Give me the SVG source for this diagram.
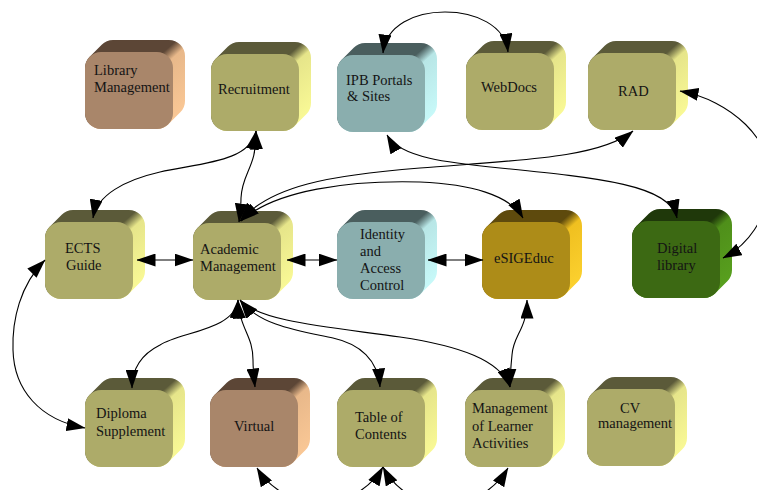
<svg xmlns="http://www.w3.org/2000/svg" xmlns:xlink="http://www.w3.org/1999/xlink" width="757" height="490" viewBox="0 0 757 490">
  <style>
    text { font-family: "Liberation Serif", "Times New Roman", serif; font-size: 14.5px; fill: #141414; }
    .e { fill: none; stroke: #000; stroke-width: 1.1; marker-start: url(#ah); marker-end: url(#ah); }
    .olive-h { fill: url(#gOlive); } .olive-f { fill: #adab69; }
    .brown-h { fill: url(#gBrown); } .brown-f { fill: #a9866a; }
    .teal-h  { fill: url(#gTeal); }  .teal-f  { fill: #8aaeae; }
    .gold-h  { fill: url(#gGold); }  .gold-f  { fill: #ad8c18; }
    .green-h { fill: url(#gGreen); } .green-f { fill: #3c6913; }
  </style>
  <defs>
    <!-- bevelled box: hull (top + right faces) and front face, 100 x 89, depth 12 -->
    <path id="hull" d="M0,28 A16,16 0 0 1 4.69,16.69 L16.69,4.69 A16,16 0 0 1 28,0 L84,0 A16,16 0 0 1 100,16 L100,61 A16,16 0 0 1 95.31,72.31 L83.31,84.31 A16,16 0 0 1 72,89 L16,89 A16,16 0 0 1 0,73 Z"/>
    <rect id="face" x="0" y="12" width="88" height="77" rx="16" ry="16"/>
    <linearGradient id="gOlive" x1="0" y1="0" x2="1" y2="1">
      <stop offset="0" stop-color="#5b5a39"/><stop offset="0.46" stop-color="#5b5a39"/>
      <stop offset="0.54" stop-color="#e6e58a"/><stop offset="1" stop-color="#ffff99"/>
    </linearGradient>
    <linearGradient id="gBrown" x1="0" y1="0" x2="1" y2="1">
      <stop offset="0" stop-color="#5c4636"/><stop offset="0.46" stop-color="#5c4636"/>
      <stop offset="0.54" stop-color="#e8b88a"/><stop offset="1" stop-color="#ffcc99"/>
    </linearGradient>
    <linearGradient id="gTeal" x1="0" y1="0" x2="1" y2="1">
      <stop offset="0" stop-color="#4a5e5e"/><stop offset="0.46" stop-color="#4a5e5e"/>
      <stop offset="0.54" stop-color="#b8e6e6"/><stop offset="1" stop-color="#ccffff"/>
    </linearGradient>
    <linearGradient id="gGold" x1="0" y1="0" x2="1" y2="1">
      <stop offset="0" stop-color="#5e4a0d"/><stop offset="0.46" stop-color="#5e4a0d"/>
      <stop offset="0.54" stop-color="#f0c020"/><stop offset="1" stop-color="#ffd633"/>
    </linearGradient>
    <linearGradient id="gGreen" x1="0" y1="0" x2="1" y2="1">
      <stop offset="0" stop-color="#1f380a"/><stop offset="0.46" stop-color="#1f380a"/>
      <stop offset="0.54" stop-color="#4f8f1a"/><stop offset="1" stop-color="#5ba51f"/>
    </linearGradient>
    <marker id="ah" viewBox="0 0 19 13" refX="18.5" refY="6.5" markerWidth="19" markerHeight="13" markerUnits="userSpaceOnUse" orient="auto-start-reverse">
      <path d="M0,0 L19,6.5 L0,13 Z" fill="#000"/>
    </marker>
  </defs>

  <!-- row 1 -->
  <g id="library-management">
    <use href="#hull" x="85" y="40" class="brown-h"/><use href="#face" x="85" y="40" class="brown-f"/>
    <text x="94" y="75">Library</text><text x="94" y="92">Management</text>
  </g>
  <g id="recruitment">
    <use href="#hull" x="211" y="42" class="olive-h"/><use href="#face" x="211" y="42" class="olive-f"/>
    <text x="218" y="94">Recruitment</text>
  </g>
  <g id="ipb-portals">
    <use href="#hull" x="337" y="43" class="teal-h"/><use href="#face" x="337" y="43" class="teal-f"/>
    <text x="346" y="85">IPB Portals</text><text x="347" y="101">&amp; Sites</text>
  </g>
  <g id="webdocs">
    <use href="#hull" x="466" y="41" class="olive-h"/><use href="#face" x="466" y="41" class="olive-f"/>
    <text x="481" y="92">WebDocs</text>
  </g>
  <g id="rad">
    <use href="#hull" x="588" y="41" class="olive-h"/><use href="#face" x="588" y="41" class="olive-f"/>
    <text x="618" y="96">RAD</text>
  </g>

  <!-- row 2 -->
  <g id="ects-guide">
    <use href="#hull" x="45" y="210" class="olive-h"/><use href="#face" x="45" y="210" class="olive-f"/>
    <text x="65" y="253">ECTS</text><text x="66" y="270">Guide</text>
  </g>
  <g id="academic-management">
    <use href="#hull" x="193" y="211" class="olive-h"/><use href="#face" x="193" y="211" class="olive-f"/>
    <text x="200" y="254">Academic</text><text x="200" y="271">Management</text>
  </g>
  <g id="identity-access">
    <use href="#hull" x="337" y="210" class="teal-h"/><use href="#face" x="337" y="210" class="teal-f"/>
    <text x="360" y="239">Identity</text><text x="360" y="256">and</text>
    <text x="360" y="273">Access</text><text x="360" y="290">Control</text>
  </g>
  <g id="esigeduc">
    <use href="#hull" x="482" y="210" class="gold-h"/><use href="#face" x="482" y="210" class="gold-f"/>
    <text x="494" y="263">eSIGEduc</text>
  </g>
  <g id="digital-library">
    <use href="#hull" x="632" y="209" class="green-h"/><use href="#face" x="632" y="209" class="green-f"/>
    <text x="657" y="253">Digital</text><text x="657" y="270">library</text>
  </g>

  <!-- row 3 -->
  <g id="diploma-supplement">
    <use href="#hull" x="85" y="378" class="olive-h"/><use href="#face" x="85" y="378" class="olive-f"/>
    <text x="96" y="418">Diploma</text><text x="96" y="436">Supplement</text>
  </g>
  <g id="virtual">
    <use href="#hull" x="210" y="378" class="brown-h"/><use href="#face" x="210" y="378" class="brown-f"/>
    <text x="234" y="431">Virtual</text>
  </g>
  <g id="table-of-contents">
    <use href="#hull" x="337" y="378" class="olive-h"/><use href="#face" x="337" y="378" class="olive-f"/>
    <text x="355" y="422">Table of</text><text x="355" y="439">Contents</text>
  </g>
  <g id="learner-activities">
    <use href="#hull" x="465" y="378" class="olive-h"/><use href="#face" x="465" y="378" class="olive-f"/>
    <text x="472" y="413">Management</text><text x="472" y="431">of Learner</text><text x="472" y="448">Activities</text>
  </g>
  <g id="cv-management">
    <use href="#hull" x="587" y="377" class="olive-h"/><use href="#face" x="587" y="377" class="olive-f"/>
    <text x="620" y="413">CV</text><text x="598" y="428">management</text>
  </g>

  <!-- connectors -->
  <g id="edges">
    <path class="e" d="M383,53 C386,25 415,12 445,12 C475,12 505,25 508,52"/>
    <path class="e" d="M256,131 C250,162 200,163 160,172 C125,180 97,195 93,218"/>
    <path class="e" d="M256,131 C257,168 242,172 241,198 C241,207 240,214 239,222"/>
    <path class="e" d="M240,221 C270,186 330,175 420,168 C520,160 600,158 633,131"/>
    <path class="e" d="M387,135 C400,158 450,163 500,168 C600,178 670,185 677,218"/>
    <path class="e" d="M241,221 C275,190 350,180 420,182 C470,184 510,195 523,218"/>
    <path class="e" d="M137,260 L193,260"/>
    <path class="e" d="M287,260 L337,260"/>
    <path class="e" d="M428,260 L483,260"/>
    <path class="e" d="M680,91 C730,100 775,140 770,185 C766,220 748,245 723,258"/>
    <path class="e" d="M45,260 C20,285 12,320 13,350 C14,390 40,420 85,428"/>
    <path class="e" d="M238,300 C235,330 180,332 160,345 C140,355 132,370 132,388"/>
    <path class="e" d="M238,300 C240,330 253,335 253,360 C253,370 254,378 255,387"/>
    <path class="e" d="M240,300 C260,326 300,331 333,338 C360,344 378,360 380,387"/>
    <path class="e" d="M240,300 C260,322 330,327 400,337 C460,346 500,360 510,387"/>
    <path class="e" d="M527,300 C527,330 513,335 512,355 C511,365 510,375 510,387"/>
    <path class="e" d="M257,468 C270,490 300,505 320,505 C340,505 370,490 383,467"/>
    <path class="e" d="M383,467 C395,490 420,505 445,505 C470,505 495,490 508,468"/>
  </g>
</svg>
